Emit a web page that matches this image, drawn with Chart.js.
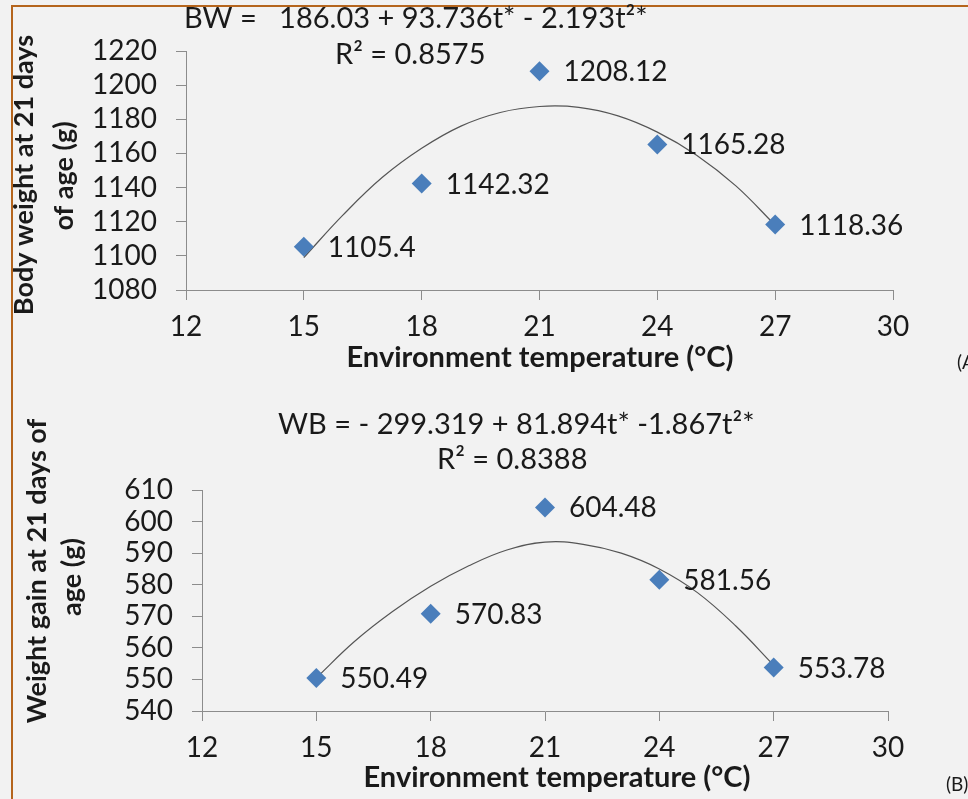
<!DOCTYPE html>
<html>
<head>
<meta charset="utf-8">
<script src="https://cdn.jsdelivr.net/npm/chart.js@4.4.1/dist/chart.umd.min.js"></script>
<style>
  html, body { margin: 0; padding: 0; background: #f2f2f2; overflow: hidden; }
  #frame { position: absolute; left: 11px; top: 5px; width: 1000px; height: 900px;
           border-left: 2px solid #b5651d; border-top: 2px solid #b5651d; }
  canvas { position: absolute; left: 0; }
  #chartA { top: 0; }
  #chartB { top: 400px; }
</style>
</head>
<body>
<div id="frame"></div>
<canvas id="chartA" width="968" height="400"></canvas>
<canvas id="chartB" width="968" height="399"></canvas>
<script>
// Data
const temps = [15, 18, 21, 24, 27];
const bodyWeight = [1105.4, 1142.32, 1208.12, 1165.28, 1118.36];
const weightGain = [550.49, 570.83, 604.48, 581.56, 553.78];

// fitted curves
const trendTemps = [15, 16, 17, 18, 19, 20, 21, 22, 23, 24, 25, 26, 27];
const bwTrend = [1099, 1124, 1146, 1163, 1176, 1184, 1187.5, 1187, 1182, 1172.5, 1159, 1141, 1118];
const wgTrend = [550.5, 562, 571.5, 579.5, 586, 591, 593.5, 592.8, 590, 585, 577.5, 567, 554.5];

// tick labels
const xTicks = [12, 15, 18, 21, 24, 27, 30];
const bwTicks = [1080, 1100, 1120, 1140, 1160, 1180, 1200, 1220];
const wgTicks = [540, 550, 560, 570, 580, 590, 600, 610];

const FONT = 'Lato, "Open Sans", sans-serif';
const TXT = '#1a1a1a';

// draws point labels and free text (equations, axis titles)
const textPlugin = {
  id: 'extraText',
  afterDatasetsDraw(chart) {
    const ctx = chart.ctx;
    const opts = chart.options.plugins.extraText;
    ctx.save();
    ctx.fillStyle = TXT;
    ctx.textBaseline = 'middle';
    ctx.textAlign = 'left';
    ctx.font = '28px ' + FONT;
    const meta = chart.getDatasetMeta(0);
    meta.data.forEach((el, i) => {
      ctx.fillText(String(chart.data.datasets[0].data[i].y), el.x + 24, el.y + 1);
    });
    opts.items.forEach(t => {
      ctx.save();
      ctx.font = t.font;
      ctx.textAlign = t.align || 'left';
      ctx.translate(t.x, t.y);
      if (t.rotate) ctx.rotate(-Math.PI / 2);
      ctx.fillText(t.text, 0, 0);
      ctx.restore();
    });
    ctx.restore();
  }
};

function makeChart(id, pts, trend, yTicks, area, items) {
  const canvas = document.getElementById(id);
  return new Chart(canvas, {
    type: 'scatter',
    data: {
      datasets: [{
        data: temps.map((t, i) => ({ x: t, y: pts[i] })),
        pointStyle: 'rectRot',
        pointRadius: 10,
        pointBackgroundColor: '#4a7ebb',
        pointBorderColor: '#4a7ebb',
        pointBorderWidth: 0,
        showLine: false
      }, {
        data: trendTemps.map((t, i) => ({ x: t, y: trend[i] })),
        showLine: true,
        borderColor: '#555555',
        borderWidth: 1.2,
        tension: 0.4,
        pointRadius: 0,
        fill: false
      }]
    },
    options: {
      responsive: false,
      animation: false,
      events: [],
      layout: { padding: { left: 0, top: area.top, right: canvas.width - area.right, bottom: 0 } },
      plugins: {
        legend: { display: false },
        tooltip: { enabled: false },
        extraText: { items: items }
      },
      scales: {
        x: {
          type: 'linear',
          min: xTicks[0],
          max: xTicks[xTicks.length - 1],
          afterBuildTicks: s => { s.ticks = xTicks.map(v => ({ value: v })); },
          afterFit: s => { s.height = canvas.height - area.bottom; },
          grid: { drawOnChartArea: false, color: '#8c8c8c', tickLength: 10 },
          border: { color: '#8c8c8c', width: 1 },
          ticks: { color: TXT, font: { family: FONT, size: 28 }, padding: 10, maxRotation: 0,
                   autoSkip: false, callback: v => String(v) }
        },
        y: {
          min: yTicks[0],
          max: yTicks[yTicks.length - 1],
          afterBuildTicks: s => { s.ticks = yTicks.map(v => ({ value: v })); },
          afterFit: s => { s.width = area.left; },
          grid: { drawOnChartArea: false, color: '#8c8c8c', tickLength: 10 },
          border: { color: '#8c8c8c', width: 1 },
          ticks: { color: TXT, font: { family: FONT, size: 28 }, padding: 19,
                   autoSkip: false, callback: v => String(v) }
        }
      }
    },
    plugins: [textPlugin]
  });
}

makeChart('chartA', bodyWeight, bwTrend, bwTicks,
  { left: 186, right: 893, top: 51, bottom: 290 },
  [
    { text: 'BW =   186.03 + 93.736t* - 2.193t\u00b2*', x: 184, y: 19, font: '29px ' + FONT },
    { text: 'R\u00b2 = 0.8575', x: 335, y: 55, font: '29px ' + FONT },
    { text: 'Body weight at 21 days', x: 24, y: 175, rotate: true, align: 'center', font: 'bold 27px ' + FONT },
    { text: 'of age (g)', x: 64, y: 176, rotate: true, align: 'center', font: 'bold 27px ' + FONT },
    { text: 'Environment temperature (\u00b0C)', x: 540, y: 358, align: 'center', font: 'bold 29px ' + FONT },
    { text: '(A)', x: 957, y: 363, font: '19px ' + FONT }
  ]);

makeChart('chartB', weightGain, wgTrend, wgTicks,
  { left: 202, right: 888, top: 90, bottom: 311 },
  [
    { text: 'WB = - 299.319 + 81.894t* -1.867t\u00b2*', x: 278, y: 25, font: '29px ' + FONT },
    { text: 'R\u00b2 = 0.8388', x: 437, y: 60, font: '29px ' + FONT },
    { text: 'Weight gain at 21 days of', x: 37, y: 171, rotate: true, align: 'center', font: 'bold 27px ' + FONT },
    { text: 'age (g)', x: 72, y: 177, rotate: true, align: 'center', font: 'bold 27px ' + FONT },
    { text: 'Environment temperature (\u00b0C)', x: 557, y: 378, align: 'center', font: 'bold 29px ' + FONT },
    { text: '(B)', x: 946, y: 385, font: '19px ' + FONT }
  ]);
</script>
</body>
</html>
